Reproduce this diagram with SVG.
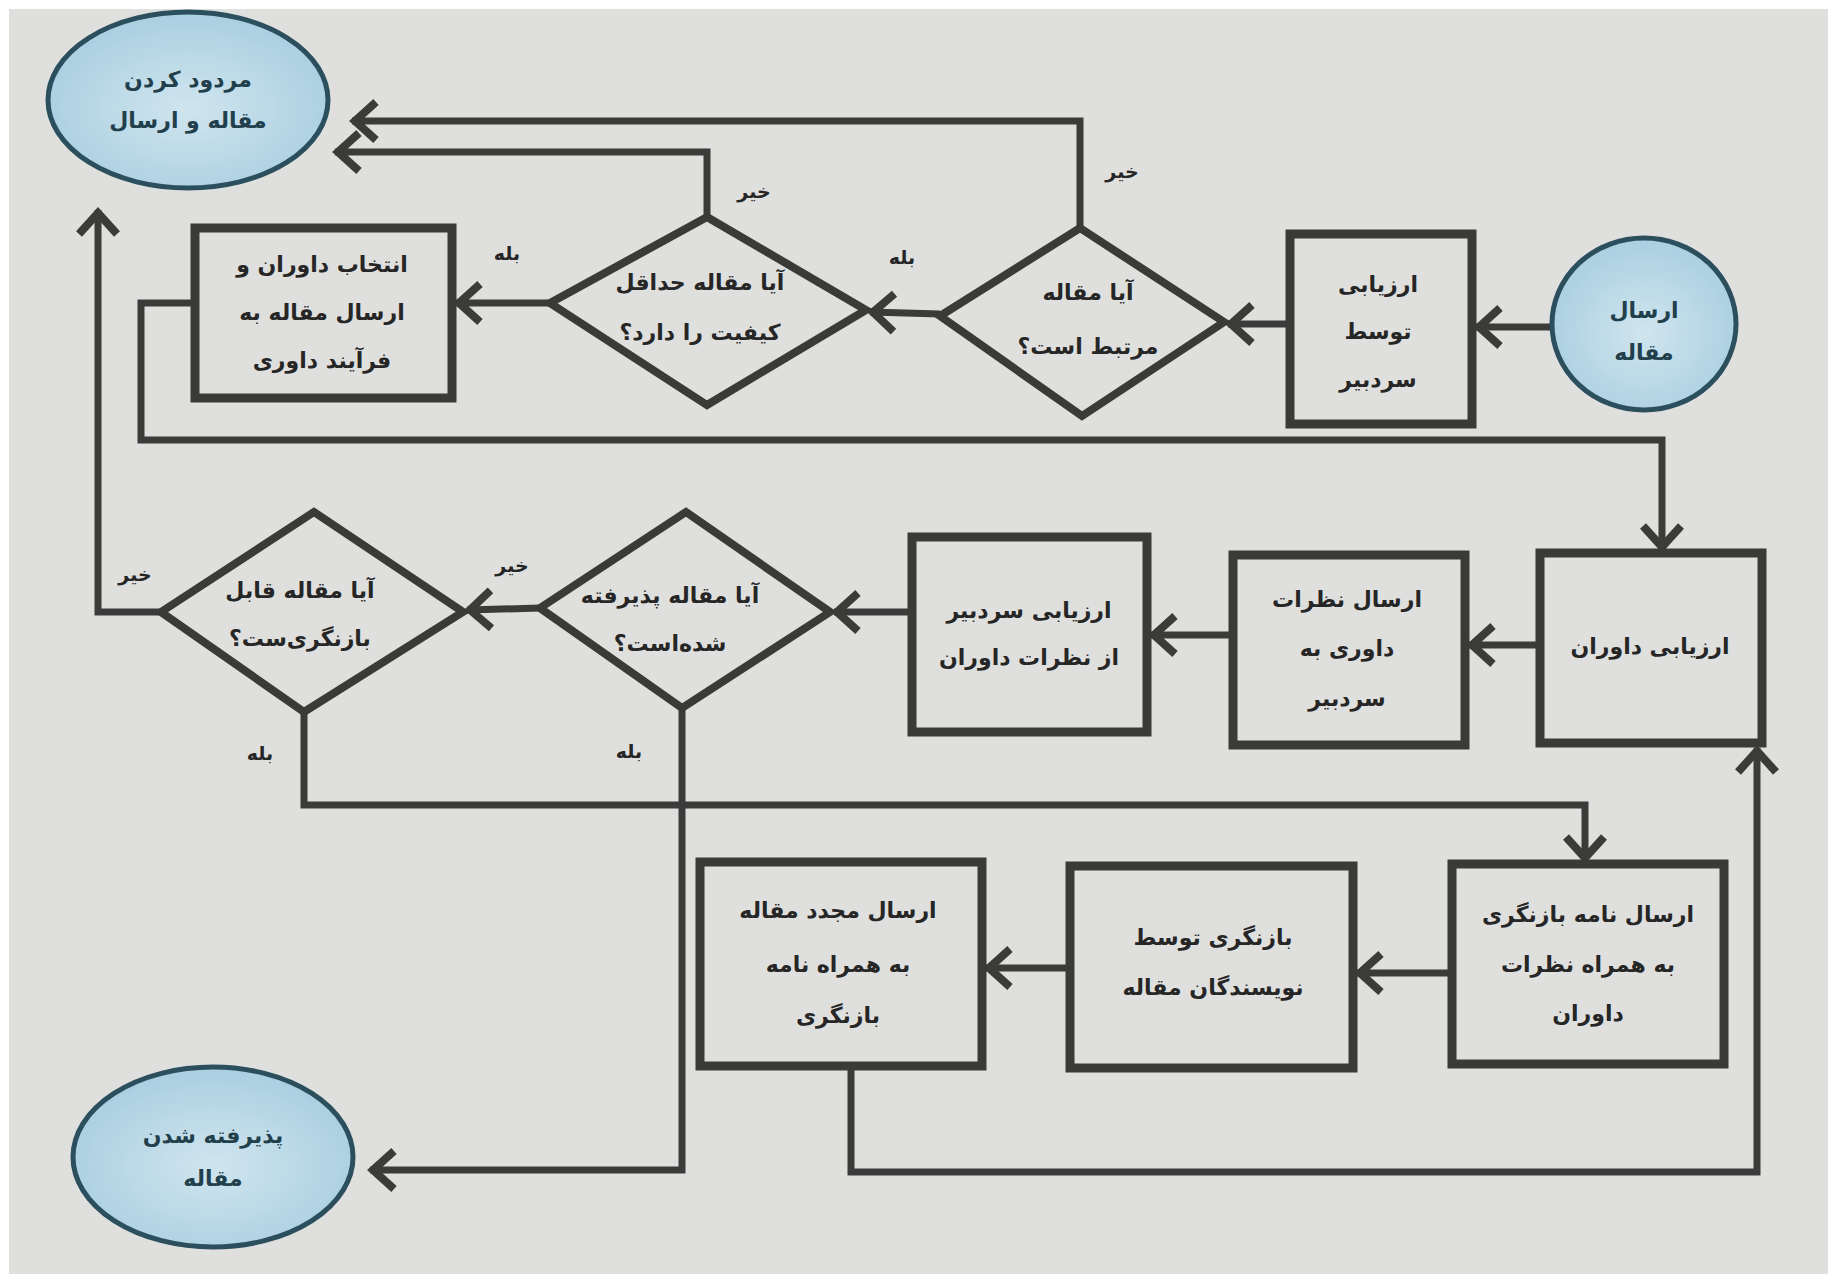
<svg xmlns="http://www.w3.org/2000/svg" width="1837" height="1283" viewBox="0 0 1837 1283">
<style>
.bg{fill:#dfe0de}
.box{fill:none;stroke:#3a3a38;stroke-width:9}
.dia{fill:none;stroke:#3a3a38;stroke-width:8;stroke-linejoin:miter}
.ell{fill:url(#eg);stroke:#2c4f5e;stroke-width:5}
.con{fill:none;stroke:#3b3b3a;stroke-width:7;marker-end:url(#ah)}
.t{font-family:"DejaVu Sans","Noto Sans",sans-serif;font-weight:bold;font-size:22px;fill:#262626;text-anchor:middle;direction:rtl}
.te{font-family:"DejaVu Sans","Noto Sans",sans-serif;font-weight:bold;font-size:22px;fill:#22404c;text-anchor:middle;direction:rtl}
.lb{font-family:"DejaVu Sans","Noto Sans",sans-serif;font-weight:bold;font-size:19px;fill:#262626;text-anchor:middle;direction:rtl}
</style>
<defs>
<radialGradient id="eg" cx="50%" cy="55%" r="60%">
<stop offset="0" stop-color="#d0e5ee"/>
<stop offset="1" stop-color="#a6cde0"/>
</radialGradient>
<marker id="ah" markerUnits="userSpaceOnUse" markerWidth="60" markerHeight="60" viewBox="-35 -30 45 60" refX="0" refY="0" orient="auto" overflow="visible">
<path d="M-24,-19 L-3,0 L-24,19" fill="none" stroke="#3b3b3a" stroke-width="8"/>
</marker>
</defs>
<rect x="0" y="0" width="1837" height="1283" fill="#ffffff"/>
<rect class="bg" x="9" y="9" width="1819" height="1265"/>

<g id="connectors">
<path id="c1" class="con" d="M1552,327 L1476,327"/>
<path id="c2" class="con" d="M1290,324 L1228,324"/>
<path id="c3" class="con" d="M940,314 L870,312"/>
<path id="c4" class="con" d="M1080,228 L1080,121 L352,121"/>
<path id="c5" class="con" d="M707,217 L707,152 L335,152"/>
<path id="c6" class="con" d="M550,303 L456,303"/>
<path id="c7" class="con" d="M195,303 L141,303 L141,440 L1662,440 L1662,550"/>
<path id="c8" class="con" d="M1540,645 L1469,645"/>
<path id="c9" class="con" d="M1233,635 L1151,635"/>
<path id="c10" class="con" d="M912,612 L834,612"/>
<path id="c11" class="con" d="M540,608 L467,610"/>
<path id="c12" class="con" d="M161,612 L98,612 L98,210"/>
<path id="c13" class="con" d="M304,712 L304,805 L1585,805 L1585,861"/>
<path id="c14" class="con" d="M682,708 L682,1170 L370,1170"/>
<path id="c15" class="con" d="M1452,973 L1357,973"/>
<path id="c16" class="con" d="M1070,968 L986,968"/>
<path id="c17" class="con" d="M851,1066 L851,1172 L1757,1172 L1757,748"/>
<text class="lb" x="1122" y="178">خیر</text>
<text class="lb" x="754" y="198">خیر</text>
<text class="lb" x="902" y="264">بله</text>
<text class="lb" x="507" y="260">بله</text>
<text class="lb" x="512" y="572">خیر</text>
<text class="lb" x="135" y="581">خیر</text>
<text class="lb" x="260" y="760">بله</text>
<text class="lb" x="629" y="758">بله</text>
</g>

<g id="n-reject">
<ellipse class="ell" cx="188" cy="100" rx="140" ry="88"/>
<text class="te" x="188" y="87">مردود کردن</text>
<text class="te" x="188" y="128">مقاله و ارسال</text>
</g>

<g id="n-start">
<ellipse class="ell" cx="1644" cy="324" rx="92" ry="86"/>
<text class="te" x="1644" y="318">ارسال</text>
<text class="te" x="1644" y="360">مقاله</text>
</g>

<g id="n-editor-eval">
<rect class="box" x="1290" y="234" width="182" height="190"/>
<text class="t" x="1378" y="292">ارزیابی</text>
<text class="t" x="1378" y="339">توسط</text>
<text class="t" x="1378" y="387">سردبیر</text>
</g>

<g id="n-relevant">
<polygon class="dia" points="1080,228 1224,322 1082,416 940,316"/>
<text class="t" x="1088" y="300">آیا مقاله</text>
<text class="t" x="1088" y="354">مرتبط است؟</text>
</g>

<g id="n-quality">
<polygon class="dia" points="707,217 866,310 707,405 550,303"/>
<text class="t" x="700" y="290">آیا مقاله حداقل</text>
<text class="t" x="700" y="340">کیفیت را دارد؟</text>
</g>

<g id="n-select">
<rect class="box" x="195" y="228" width="257" height="170"/>
<text class="t" x="322" y="272">انتخاب داوران و</text>
<text class="t" x="322" y="320">ارسال مقاله به</text>
<text class="t" x="322" y="368">فرآیند داوری</text>
</g>

<g id="n-review">
<rect class="box" x="1540" y="553" width="222" height="190"/>
<text class="t" x="1650" y="654">ارزیابی داوران</text>
</g>

<g id="n-send-comments">
<rect class="box" x="1233" y="555" width="232" height="190"/>
<text class="t" x="1347" y="607">ارسال نظرات</text>
<text class="t" x="1347" y="656">داوری به</text>
<text class="t" x="1347" y="706">سردبیر</text>
</g>

<g id="n-editor-review">
<rect class="box" x="912" y="537" width="235" height="195"/>
<text class="t" x="1029" y="618">ارزیابی سردبیر</text>
<text class="t" x="1029" y="665">از نظرات داوران</text>
</g>

<g id="n-accepted-q">
<polygon class="dia" points="686,512 830,612 682,708 540,608"/>
<text class="t" x="670" y="603">آیا مقاله پذیرفته</text>
<text class="t" x="670" y="651">شده‌است؟</text>
</g>

<g id="n-revisable-q">
<polygon class="dia" points="314,512 463,612 304,712 161,612"/>
<text class="t" x="300" y="598">آیا مقاله قابل</text>
<text class="t" x="300" y="646">بازنگری‌ست؟</text>
</g>

<g id="n-revision-letter">
<rect class="box" x="1452" y="864" width="272" height="200"/>
<text class="t" x="1588" y="922">ارسال نامه بازنگری</text>
<text class="t" x="1588" y="972">به همراه نظرات</text>
<text class="t" x="1588" y="1021">داوران</text>
</g>

<g id="n-authors-revise">
<rect class="box" x="1070" y="866" width="283" height="202"/>
<text class="t" x="1213" y="945">بازنگری توسط</text>
<text class="t" x="1213" y="995">نویسندگان مقاله</text>
</g>

<g id="n-resubmit">
<rect class="box" x="700" y="862" width="282" height="204"/>
<text class="t" x="838" y="918">ارسال مجدد مقاله</text>
<text class="t" x="838" y="972">به همراه نامه</text>
<text class="t" x="838" y="1023">بازنگری</text>
</g>

<g id="n-accept">
<ellipse class="ell" cx="213" cy="1157" rx="140" ry="90"/>
<text class="te" x="213" y="1143">پذیرفته شدن</text>
<text class="te" x="213" y="1186">مقاله</text>
</g>
</svg>
